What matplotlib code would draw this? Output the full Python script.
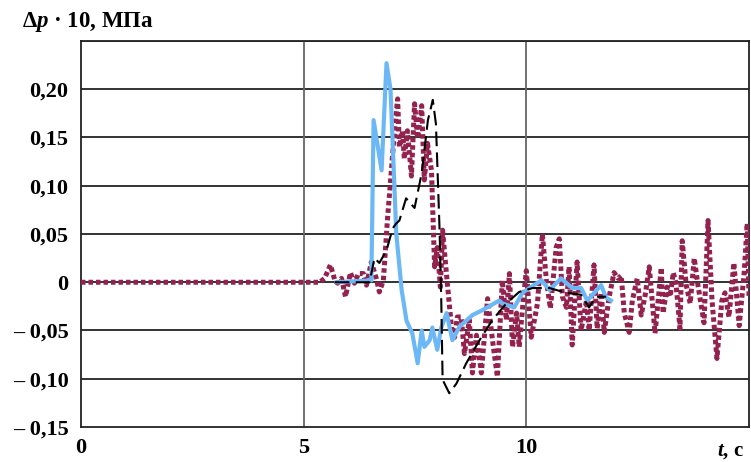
import matplotlib
matplotlib.use("Agg")
import matplotlib.pyplot as plt
import numpy as np

plt.rcParams['font.family'] = ['Liberation Serif', 'DejaVu Serif']
plt.rcParams['mathtext.fontset'] = 'custom'
plt.rcParams['mathtext.rm'] = 'Liberation Serif:bold'
plt.rcParams['mathtext.it'] = 'Liberation Serif:italic:bold'

# blue solid curve
t_blue = [5.74, 6.52, 6.57, 6.75, 6.86, 6.95, 7.08, 7.2, 7.31, 7.44, 7.56, 7.65, 7.71,
          7.83, 7.89, 8.0, 8.09, 8.21, 8.34, 8.5, 8.79, 9.01, 9.39, 9.46, 9.73, 9.91,
          10.07, 10.34, 10.52, 10.78, 11.03, 11.23, 11.37, 11.68, 11.79, 11.9]
p_blue = [0.0, 0.002, 0.168, 0.116, 0.227, 0.2, 0.05, -0.008, -0.04, -0.053, -0.084, -0.05, -0.067,
          -0.06, -0.047, -0.07, -0.047, -0.032, -0.06, -0.046, -0.034, -0.029, -0.019, -0.022, -0.026, -0.011,
          -0.006, 0.002, -0.008, 0.004, -0.006, -0.006, -0.019, -0.003, -0.016, -0.019]

# black dashed curve
t_black = [5.7, 6.48, 6.59, 6.7, 6.86, 7.0, 7.08, 7.15, 7.3, 7.49, 7.65, 7.79, 7.9, 7.97,
           8.05, 8.09, 8.12, 8.27, 8.43, 8.65, 8.95, 9.24, 9.55, 9.84, 10.14, 10.52,
           10.9, 11.23, 11.41, 11.56, 11.79]
p_black = [0.0, 0.0, 0.025, 0.02, 0.033, 0.056, 0.061, 0.064, 0.087, 0.077, 0.113, 0.168, 0.189, 0.164,
           0.057, -0.019, -0.101, -0.115, -0.105, -0.084, -0.06, -0.039, -0.022, -0.01, -0.006, -0.006,
           -0.011, -0.013, -0.026, -0.015, -0.015]

# maroon dotted curve
t_red = [0.0, 5.36, 5.47, 5.6, 5.7, 5.76, 5.85, 5.94, 6.05, 6.14, 6.23, 6.34, 6.41, 6.52, 6.63, 6.7,
         6.79, 6.88, 7.04, 7.11, 7.15, 7.22, 7.26, 7.33, 7.42, 7.49, 7.56, 7.65, 7.71, 7.78, 7.87,
         7.94, 8.0, 8.07, 8.12, 8.2, 8.32, 8.39, 8.45, 8.54, 8.61, 8.72, 8.79, 8.88, 8.99, 9.13,
         9.24, 9.35, 9.46, 9.55, 9.62, 9.69, 9.78, 9.84, 9.93, 10.0, 10.11, 10.25, 10.36, 10.45,
         10.54, 10.67, 10.74, 10.81, 10.9, 10.96, 11.03, 11.14, 11.23, 11.35, 11.41, 11.52, 11.59,
         11.68, 11.75, 11.86, 11.97, 12.06, 12.13, 12.2, 12.31, 12.38, 12.49, 12.58, 12.67, 12.76,
         12.89, 13.03, 13.07, 13.16, 13.23, 13.3, 13.36, 13.45, 13.5, 13.59, 13.68, 13.77, 13.86,
         13.99, 14.08, 14.17, 14.28, 14.39, 14.46, 14.55, 14.66, 14.78, 14.89, 14.96, 15.0]
p_red = [0.0, 0.0, 0.004, 0.018, 0.002, -0.001, 0.004, -0.015, 0.01, -0.001, 0.009, 0.009, -0.003,
         0.021, 0.004, -0.01, 0.002, 0.064, 0.157, 0.19, 0.14, 0.157, 0.128, 0.157, 0.11, 0.185,
         0.149, 0.183, 0.106, 0.144, 0.116, 0.016, 0.036, -0.005, 0.054, 0.012, -0.047, -0.057,
         -0.036, -0.036, -0.074, -0.039, -0.094, -0.055, -0.094, -0.017, -0.06, -0.098, 0.002,
         -0.039, 0.009, -0.067, -0.032, -0.067, -0.019, 0.012, -0.057, -0.022, 0.05, 0.002,
         -0.027, 0.036, 0.045, -0.015, -0.026, 0.016, -0.065, 0.021, -0.05, -0.019, -0.05, 0.018,
         -0.048, -0.011, -0.052, -0.015, 0.01, 0.004, 0.007, -0.032, -0.052, -0.019, 0.004, -0.034,
         -0.013, 0.016, -0.053, 0.015, -0.032, -0.005, -0.015, 0.01, -0.001, -0.048, 0.043, -0.003,
         -0.022, 0.025, -0.005, -0.042, 0.064, -0.019, -0.079, -0.019, -0.011, -0.036, 0.02,
         -0.045, 0.009, 0.061, -0.015]

y_ticks = [-0.15, -0.10, -0.05, 0.0, 0.05, 0.10, 0.15, 0.20]
y_labels = ['– 0,15', '– 0,10', '– 0,05', '0', '0,05', '0,10', '0,15', '0,20']
x_ticks = [0, 5, 10]
x_labels = ['0', '5', '10']

fig = plt.figure(figsize=(7.51, 4.62), dpi=100)
ax = fig.add_axes([81/751, 1-427/462, 668/751, 386/462])

# grid lines
for y in y_ticks[1:] + [0.25]:
    ax.axhline(y, color='#222222', lw=1.3, zorder=1)
for x in x_ticks[1:]:
    ax.axvline(x, color='#666666', lw=1.3, zorder=1)

ax.plot(t_red, p_red, color='#93224f', lw=3.6, linestyle=(0, (0.9, 0.6)), zorder=3)
ax.plot(t_blue, p_blue, color='#6cb8f6', lw=3, zorder=4)
ax.plot(t_black, p_black, color='black', lw=1.5, linestyle=(0, (7, 3)), zorder=5)

ax.set_xlim(0, 15)
ax.set_ylim(-0.15, 0.25)
ax.set_yticks(y_ticks)
ax.set_yticklabels(y_labels)
ax.set_xticks(x_ticks)
ax.set_xticklabels(x_labels)
ax.tick_params(length=0, labelsize=16)
ax.tick_params(axis='y', pad=9)
ax.tick_params(axis='x', pad=8)
for lab in ax.get_xticklabels() + ax.get_yticklabels():
    lab.set_fontweight('bold')
for s in ax.spines.values():
    s.set_color('#222222')
    s.set_linewidth(1.3)

fig.text(22/751, 1-22/462, r'$\Delta\mathit{p}$ · 10, МПа', fontsize=16.5,
         fontweight='bold', ha='left', va='center')
fig.text(744/751, 1-456/462, r'$\mathit{t}$, c', fontsize=15,
         fontweight='bold', ha='right', va='baseline')

fig.savefig('out.png', dpi=100)
